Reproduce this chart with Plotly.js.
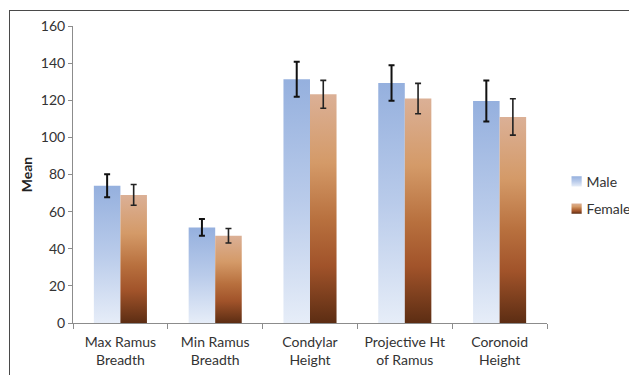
<!DOCTYPE html>
<html>
<head>
<meta charset="utf-8">
<script src="https://cdn.plot.ly/plotly-3.0.1.min.js"></script>
<style>
  html, body { margin: 0; padding: 0; background: #fff; }
  #chart { width: 629px; height: 375px; position: absolute; left: 0; top: 0; }
  #frame { position: absolute; left: 9px; top: 10px; width: 700px; height: 500px;
           border: 1.5px solid #4a4a4a; pointer-events: none; }
</style>
</head>
<body>
<div id="chart"></div>
<div id="frame"></div>
<script>
var categories = ["Max Ramus<br>Breadth", "Min Ramus<br>Breadth", "Condylar<br>Height", "Projective Ht<br>of Ramus", "Coronoid<br>Height"];
var maleMean = [74, 51.5, 131.3, 129.3, 119.6];
var maleSD = [6.2, 4.5, 9.4, 9.6, 11];
var femaleMean = [69, 47, 123.2, 120.9, 111];
var femaleSD = [5.6, 3.9, 7.5, 8.2, 9.8];

var font = "Lato, 'Open Sans', sans-serif";

var traces = [
  {
    type: "bar", name: "Male", x: categories, y: maleMean,
    legendgroup: "m",
    marker: { color: "#b8cbea", line: { width: 0 } },
    error_y: { type: "data", array: maleSD, visible: true, color: "#111", thickness: 2, width: 3 }
  },
  {
    type: "bar", name: "Female", x: categories, y: femaleMean,
    legendgroup: "f",
    marker: { color: "#b06a3a", line: { width: 0 } },
    error_y: { type: "data", array: femaleSD, visible: true, color: "#222", thickness: 1.6, width: 3 }
  }
];

var layout = {
  width: 629, height: 375,
  margin: { l: 73, r: 82, t: 26, b: 52, autoexpand: false },
  paper_bgcolor: "#fff", plot_bgcolor: "#fff",
  barmode: "group", bargap: 0.44, bargroupgap: 0,
  font: { family: font, size: 14, color: "#333" },
  showlegend: true,
  legend: {
    xref: "container", yref: "container",
    x: 0.869, y: 0.558, xanchor: "left", yanchor: "top",
    font: { family: font, size: 14, color: "#333" },
    traceorder: "grouped", tracegroupgap: 6, itemwidth: 30,
    bgcolor: "rgba(0,0,0,0)"
  },
  xaxis: {
    type: "category", showgrid: false, zeroline: false,
    showline: true, linecolor: "#8c8c8c", linewidth: 1,
    ticks: "outside", tickson: "boundaries", ticklen: 5, tickcolor: "#8c8c8c",
    ticklabelstandoff: 6,
    tickfont: { family: font, size: 14, color: "#333" }
  },
  yaxis: {
    range: [0, 160], dtick: 20, showgrid: false, zeroline: false,
    showline: true, linecolor: "#8c8c8c", linewidth: 1,
    ticks: "outside", ticklen: 4, tickcolor: "#8c8c8c",
    tickfont: { family: font, size: 14, color: "#333" },
    title: { text: "<b>Mean</b>", font: { family: font, size: 14, color: "#222" }, standoff: 4 }
  }
};

function applyGradients(gd) {
  var svg = gd.querySelector("svg.main-svg");
  if (!svg) return;
  var ns = "http://www.w3.org/2000/svg";
  var defs = svg.querySelector("defs");
  if (!defs) { defs = document.createElementNS(ns, "defs"); svg.insertBefore(defs, svg.firstChild); }
  function grad(id, stops) {
    if (document.getElementById(id)) return;
    var g = document.createElementNS(ns, "linearGradient");
    g.setAttribute("id", id);
    g.setAttribute("x1", "0"); g.setAttribute("y1", "0");
    g.setAttribute("x2", "0"); g.setAttribute("y2", "1");
    stops.forEach(function (s) {
      var st = document.createElementNS(ns, "stop");
      st.setAttribute("offset", s[0]);
      st.setAttribute("stop-color", s[1]);
      g.appendChild(st);
    });
    defs.appendChild(g);
  }
  grad("gradMale", [["0", "#95b0de"], ["0.5", "#b9cbea"], ["1", "#e6edf8"]]);
  grad("gradFemale", [["0", "#dbb096"], ["0.3", "#d49a68"], ["0.55", "#b8703e"], ["0.75", "#a1532a"], ["1", "#5c2d13"]]);
  var ids = ["gradMale", "gradFemale"];
  var barTraces = gd.querySelectorAll(".barlayer .trace.bars");
  barTraces.forEach(function (t, i) {
    t.querySelectorAll(".point path").forEach(function (p) {
      p.style.fill = "url(#" + ids[i] + ")";
    });
  });
  var legTraces = gd.querySelectorAll(".legend .traces");
  legTraces.forEach(function (t, i) {
    var lp = t.querySelector(".legendpoints");
    if (lp) lp.setAttribute("transform", "translate(13,0) scale(0.85)");
    t.querySelectorAll(".legendpoints path").forEach(function (p) {
      p.style.fill = "url(#" + ids[i] + ")";
    });
  });
}

Plotly.newPlot("chart", traces, layout, { displayModeBar: false, staticPlot: true }).then(function (gd) {
  applyGradients(gd);
});
</script>
</body>
</html>
